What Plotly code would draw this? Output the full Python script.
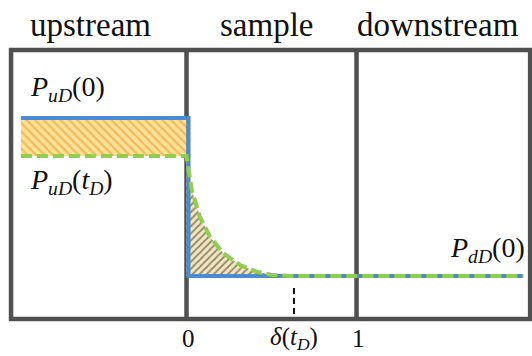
import plotly.graph_objects as go

# Dimensionless pressure levels
p_up_initial = 1.0        # P_uD(0)
p_up_current = 0.76       # P_uD(t_D)
p_down_initial = 0.0      # P_dD(0)

# Horizontal extent of the upstream / downstream reservoirs (dimensionless x)
upstream_x = [-0.974, 0.0]
downstream_end_x = 1.98

# Pressure penetration profile inside the sample at time t_D
profile_x = [0.0, 0.031, 0.079, 0.138, 0.215, 0.315, 0.413, 0.509, 0.61]
profile_y = [0.76, 0.544, 0.375, 0.249, 0.146, 0.070, 0.027, 0.006, 0.0]

# Penetration depth delta(t_D)
delta_td = 0.632

# Sample boundaries and chamber frame
sample_bounds = [0.0, 1.0]
frame_x = [-1.032, 2.021]
frame_y = [-0.272, 1.430]

BLUE = "#4a8bd4"
GREEN = "#8fcf4c"
FRAME = "#505050"
SERIF = "Liberation Serif"

fig = go.Figure()

# Pressure drop in the upstream chamber (hatched band)
fig.add_trace(go.Scatter(
    x=[upstream_x[0], upstream_x[1], upstream_x[1], upstream_x[0]],
    y=[p_up_initial, p_up_initial, p_up_current, p_up_current],
    fill="toself", mode="lines", line=dict(width=0),
    fillcolor="rgba(0,0,0,0)",
    fillpattern=dict(shape="\\", fgcolor="#e4962a", bgcolor="#fbe296",
                     size=6, solidity=0.4),
    hoverinfo="skip", showlegend=False,
))

# Gas accumulated in the sample (hatched area under the profile)
fig.add_trace(go.Scatter(
    x=profile_x, y=profile_y,
    fill="tozeroy", mode="lines", line=dict(width=0),
    fillcolor="rgba(0,0,0,0)",
    fillpattern=dict(shape="/", fgcolor="#3a2e15", bgcolor="#f3e8c4",
                     size=5, solidity=0.4),
    hoverinfo="skip", showlegend=False,
))

# Initial pressure distribution (solid blue)
wall = sample_bounds[0] + 0.012
fig.add_trace(go.Scatter(
    x=[upstream_x[0], wall, wall, downstream_end_x],
    y=[p_up_initial, p_up_initial, p_down_initial, p_down_initial],
    mode="lines", line=dict(color=BLUE, width=4),
    hoverinfo="skip", showlegend=False,
))

# Pressure distribution at time t_D (dashed green)
fig.add_trace(go.Scatter(
    x=upstream_x + profile_x[1:] + [downstream_end_x],
    y=[p_up_current, p_up_current] + profile_y[1:] + [p_down_initial],
    mode="lines", line=dict(color=GREEN, width=4, dash="11px,5px"),
    hoverinfo="skip", showlegend=False,
))

# Marker for the penetration depth
fig.add_trace(go.Scatter(
    x=[delta_td, delta_td], y=[-0.076, -0.262],
    mode="lines", line=dict(color="#111111", width=2, dash="6px,4px"),
    hoverinfo="skip", showlegend=False,
))

# Chamber frame and sample walls
shapes = [dict(type="rect", xref="x", yref="y",
               x0=frame_x[0], x1=frame_x[1], y0=frame_y[0], y1=frame_y[1],
               line=dict(color=FRAME, width=4.5), layer="below")]
for xb in sample_bounds:
    shapes.append(dict(type="line", xref="x", yref="y",
                       x0=xb, x1=xb, y0=frame_y[0], y1=frame_y[1],
                       line=dict(color=FRAME, width=4.5), layer="below"))

annotations = []
# Chamber titles
for label, xc in [("upstream", -0.562), ("sample", 0.4685), ("downstream", 1.482)]:
    annotations.append(dict(text=label, x=xc, y=1.59, xref="x", yref="y",
                            showarrow=False, xanchor="center", yanchor="middle",
                            font=dict(family=SERIF, size=33, color="#111111")))

# Pressure labels
pfont = dict(family=SERIF, size=28, color="#111111")
annotations.append(dict(text="<i>P</i><sub><i>uD</i></sub>(0)",
                        x=-0.935, y=1.19, xref="x", yref="y", showarrow=False,
                        xanchor="left", yanchor="middle", font=pfont))
annotations.append(dict(text="<i>P</i><sub><i>uD</i></sub>(<i>t</i><sub><i>D</i></sub>)",
                        x=-0.935, y=0.60, xref="x", yref="y", showarrow=False,
                        xanchor="left", yanchor="middle", font=pfont))
annotations.append(dict(text="<i>P</i><sub><i>dD</i></sub>(0)",
                        x=2.0, y=0.165, xref="x", yref="y", showarrow=False,
                        xanchor="right", yanchor="middle", font=pfont))

# Position labels along the bottom
tfont = dict(family=SERIF, size=25, color="#111111")
for label, xc in [("0", sample_bounds[0] + 0.01),
                  ("<i>δ</i>(<i>t</i><sub><i>D</i></sub>)", delta_td),
                  ("1", sample_bounds[1] + 0.01)]:
    annotations.append(dict(text=label, x=xc, y=-0.395, xref="x", yref="y",
                            showarrow=False, xanchor="center", yanchor="middle",
                            font=tfont))

fig.update_layout(
    width=532, height=356,
    margin=dict(l=0, r=0, t=0, b=0),
    paper_bgcolor="white", plot_bgcolor="white",
    xaxis=dict(range=[-1.097, 2.032], visible=False, fixedrange=True),
    yaxis=dict(range=[-0.506, 1.747], visible=False, fixedrange=True),
    shapes=shapes, annotations=annotations,
    showlegend=False,
)

fig.write_html("out.html")
